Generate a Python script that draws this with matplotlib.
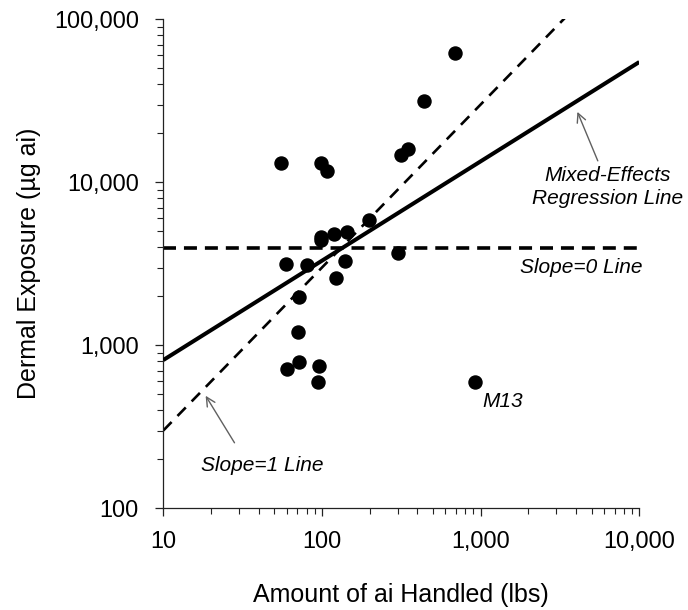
import matplotlib
matplotlib.use("Agg")
import matplotlib.pyplot as plt
from matplotlib.ticker import FuncFormatter, LogLocator, NullFormatter

plt.rcParams['font.family'] = ['Liberation Sans', 'DejaVu Sans']

# Data: amount handled (lbs) and dermal exposure (ug ai)
amount_lbs = [54.8, 98.4, 108.3, 349, 317, 687, 438, 197, 98.4, 98.4, 118.9, 142.9,
              300.7, 59.3, 80.0, 138.7, 122.3, 71.8, 70.2, 59.9, 71.8, 95.9, 93.8, 927]
exposure_ug = [13090, 13180, 11720, 15940, 14710, 62370, 31550, 5870, 4630, 4430, 4820, 4980,
               3700, 3140, 3110, 3300, 2576, 1986, 1203, 719, 787, 750, 598, 593]

# Reference lines
reg_x = [10, 10000]
reg_y = [812, 54700]
slope0_x = [10, 10000]
slope0_y = [3950, 3950]
slope1_x = [10, 3600]
slope1_y = [300, 108000]

x_ticks = [10, 100, 1000, 10000]
y_ticks = [100, 1000, 10000, 100000]

fig = plt.figure(figsize=(6.88, 6.10), dpi=100)
ax = fig.add_axes([163.3 / 688, 1 - 508.3 / 610, (639.3 - 163.3) / 688, (508.3 - 19.3) / 610])
ax.set_xscale('log')
ax.set_yscale('log')
ax.set_xlim(10, 10000)
ax.set_ylim(100, 100000)

ax.plot(slope1_x, slope1_y, color='black', lw=1.9, dashes=(4.5, 3.2), zorder=2)
ax.plot(slope0_x, slope0_y, color='black', lw=2.6, dashes=(3.6, 2.2), zorder=2)
ax.plot(reg_x, reg_y, color='black', lw=2.9, solid_capstyle='butt', zorder=3)
ax.plot(amount_lbs, exposure_ug, 'o', color='black', ms=9.4, mec='black', zorder=4)

fmt = FuncFormatter(lambda v, p: f"{int(round(v)):,}")
ax.xaxis.set_major_formatter(fmt)
ax.yaxis.set_major_formatter(fmt)
ax.set_xticks(x_ticks)
ax.set_yticks(y_ticks)
ax.xaxis.set_minor_locator(LogLocator(base=10, subs=range(2, 10)))
ax.yaxis.set_minor_locator(LogLocator(base=10, subs=range(2, 10)))
ax.xaxis.set_minor_formatter(NullFormatter())
ax.yaxis.set_minor_formatter(NullFormatter())

for s in ['top', 'right']:
    ax.spines[s].set_visible(False)
for s in ['left', 'bottom']:
    ax.spines[s].set_linewidth(0.9)
    ax.spines[s].set_color('#222222')

ax.tick_params(axis='both', which='major', direction='out', length=5.5, width=0.9,
               labelsize=16.8, color='#222222')
ax.tick_params(axis='both', which='minor', direction='out', length=4, width=0.8, color='#222222')
ax.tick_params(axis='x', which='major', pad=10)
ax.tick_params(axis='y', which='major', pad=12)

ax.set_xlabel('Amount of ai Handled (lbs)', fontsize=18, labelpad=22)
ax.set_ylabel('Dermal Exposure (µg ai)', fontsize=18, labelpad=9)

arrow_style = dict(arrowstyle='->', color='#606060', lw=1.0, mutation_scale=16)
ax.annotate('Mixed-Effects\nRegression Line', xy=(4009, 28050), xytext=(6310, 9350),
            ha='center', va='center', fontsize=15, style='italic', linespacing=1.25,
            arrowprops=dict(**arrow_style, relpos=(0.45, 1.0)), annotation_clip=False)
ax.annotate('', xy=(18.1, 507), xytext=(28.7, 244),
            arrowprops=arrow_style, annotation_clip=False)
ax.text(41.8, 181.8, 'Slope=1 Line', ha='center', va='center', fontsize=15, style='italic')
ax.text(4305, 3020, 'Slope=0 Line', ha='center', va='center', fontsize=15, style='italic')
ax.text(1377, 449, 'M13', ha='center', va='center', fontsize=15, style='italic')

fig.savefig('out.png', dpi=100)
